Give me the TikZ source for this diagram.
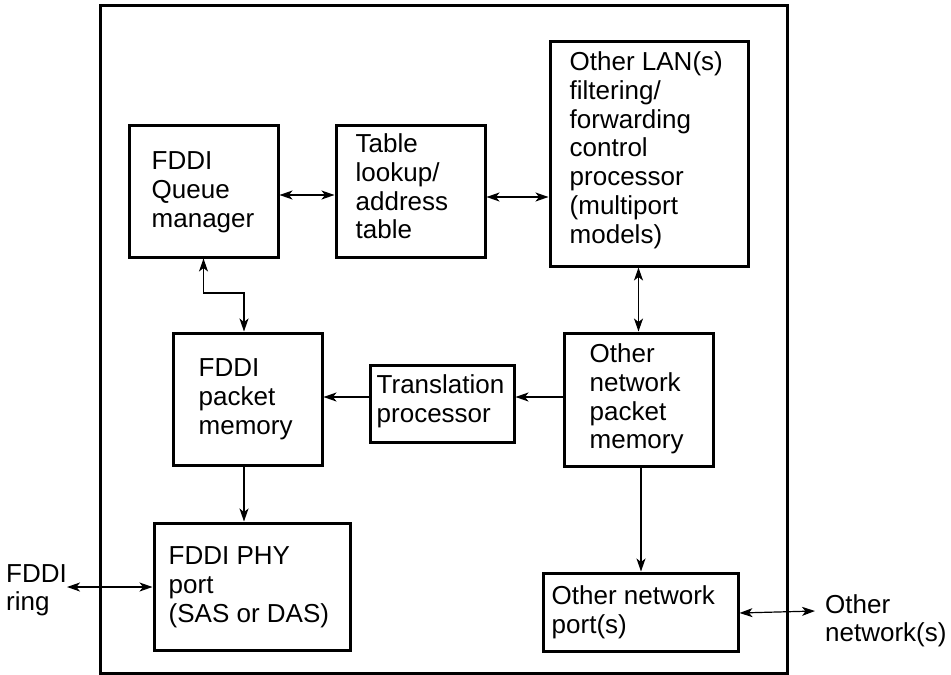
\documentclass[tikz,border=0pt]{standalone}
\usepackage{fontspec}
\setmainfont{Liberation Sans}
\usetikzlibrary{arrows.meta}
\begin{document}
\begin{tikzpicture}[x=1pt,y=-1pt,
  box/.style={draw, line width=3pt, inner sep=0pt},
  lbl/.style={anchor=north west, inner sep=0pt, align=left, font=\fontsize{26}{28.8}\selectfont},
  conn/.style={line width=1.2pt, {Stealth[length=13pt,width=9pt,inset=3.5pt]}-{Stealth[length=13pt,width=9pt,inset=3.5pt]}},
  one/.style={line width=1.2pt, -{Stealth[length=13pt,width=9pt,inset=3.5pt]}}]
\useasboundingbox (0,0) rectangle (951,675);
% outer frame
\node[box, minimum width=687pt, minimum height=668pt] (frame) at (443.5,339) {};
% boxes
\node[box, minimum width=149pt, minimum height=132pt] (qm) at (203.5,191) {};
\node[box, minimum width=149pt, minimum height=132pt] (tl) at (410.5,191) {};
\node[box, minimum width=198pt, minimum height=225pt] (lan) at (649,153.5) {};
\node[box, minimum width=149pt, minimum height=132pt] (fpm) at (247.5,399) {};
\node[box, minimum width=144pt, minimum height=77pt] (tp) at (442,403.5) {};
\node[box, minimum width=149pt, minimum height=133pt] (onm) at (638.5,399.5) {};
\node[box, minimum width=196pt, minimum height=127pt] (phy) at (252,586.5) {};
\node[box, minimum width=195pt, minimum height=78pt] (onp) at (640.5,612) {};
% labels
\node[lbl] (qmt) at ([xshift=24pt,yshift=-28pt]qm.north west) {FDDI\\Queue\\manager};
\node[lbl] (tlt) at ([xshift=21pt,yshift=-10pt]tl.north west) {Table\\lookup/\\address\\table};
\node[lbl] (lant) at ([xshift=21pt,yshift=-12pt]lan.north west) {Other LAN(s)\\filtering/\\forwarding\\control\\processor\\(multiport\\models)};
\node[lbl] (fpmt) at ([xshift=27pt,yshift=-27pt]fpm.north west) {FDDI\\packet\\memory};
\node[lbl] (tpt) at ([xshift=8pt,yshift=-11pt]tp.north west) {Translation\\processor};
\node[lbl] (onmt) at ([xshift=27pt,yshift=-12pt]onm.north west) {Other\\network\\packet\\memory};
\node[lbl] (phyt) at ([xshift=16pt,yshift=-25pt]phy.north west) {FDDI PHY\\port\\(SAS or DAS)};
\node[lbl] (onpt) at ([xshift=10pt,yshift=-14pt]onp.north west) {Other network\\port(s)};
\node[lbl] (ring) at (6,564) {FDDI\\ring};
\node[lbl] (onet) at (825,594) {Other\\network(s)};
% connectors
\draw[conn] ([yshift=-4pt]qm.east) -- ([yshift=-4pt]tl.west);
\draw[conn] ([yshift=-6pt]tl.east) -- ([yshift=-6pt]tl.east -| lan.west);
\coordinate (j) at (244,293);
\draw[conn] (qm.south) |- (j) -- (j |- fpm.north);
\draw[conn] (onm.north |- lan.south) -- (onm.north);
\draw[one] ([yshift=2.5pt]onm.west) -- ([yshift=2.5pt]onm.west -| tp.east);
\draw[one] ([yshift=6.5pt]tp.west) -- ([yshift=6.5pt]tp.west -| fpm.east);
\draw[one] ([xshift=-3.5pt]fpm.south) -- ([xshift=-3.5pt]fpm.south |- phy.north);
\draw[one] ([xshift=2.5pt]onm.south) -- ([xshift=2.5pt]onm.south |- onp.north);
\coordinate (ringend) at (67,587);
\draw[conn] (ringend) -- (ringend -| phy.west);
\coordinate (onend) at (815,611);
\draw[conn] ([yshift=-1pt]onp.east) -- (onend);
\end{tikzpicture}
\end{document}
